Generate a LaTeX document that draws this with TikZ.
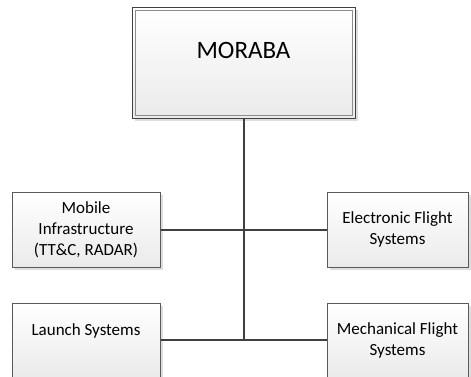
\documentclass[tikz,border=0pt]{standalone}
\usepackage{fontspec}
\setmainfont{Carlito}
\usepackage{tikz}
\usetikzlibrary{shadows}
\definecolor{boxline}{HTML}{5A5A5A}
\definecolor{linkline}{HTML}{404040}
\tikzset{
unitbox/.style={draw=boxline,line width=1pt,top color=white,bottom color=black!8,
  general shadow={fill=black!13,shadow xshift=3pt,shadow yshift=-3pt},
  align=center,inner sep=0pt,font=\fontsize{17}{21}\selectfont},
headbox/.style={unitbox,draw=black!75,font=\fontsize{25}{25}\selectfont},
link/.style={linkline,line width=2pt}
}
\begin{document}
\begin{tikzpicture}[x=1pt,y=-1pt]
\useasboundingbox (0,0) rectangle (471,376);
\node (moraba) at (243.5,62.5) [headbox,minimum width=223pt,minimum height=111pt] {MORABA\\\mbox{}};
\draw [black!45,line width=1pt] ([shift={(3.5pt,-3.5pt)}]moraba.north west) rectangle ([shift={(-3.5pt,3.5pt)}]moraba.south east);
\node (mobile) at (86,229.5) [unitbox,minimum width=148pt,minimum height=75pt] {Mobile\\Infrastructure\\(TT\&C, RADAR)};
\node (elec) at (397.5,229.5) [unitbox,minimum width=141pt,minimum height=75pt] {Electronic Flight\\Systems};
\node (launch) at (86,340) [unitbox,minimum width=148pt,minimum height=74pt] {Launch Systems\\\mbox{}};
\node (mech) at (397.5,340) [unitbox,minimum width=141pt,minimum height=74pt] {Mechanical Flight\\Systems};
\draw [link] (moraba.south) -- (moraba.south |- launch.east);
\draw [link] (mobile.east) -- (elec.west);
\draw [link] (launch.east) -- (mech.west);
\end{tikzpicture}
\end{document}
